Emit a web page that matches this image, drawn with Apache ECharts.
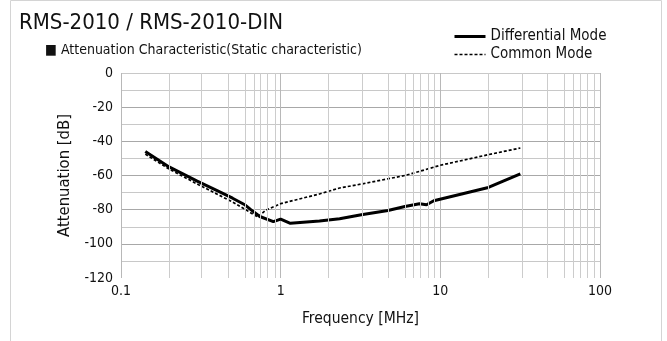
<!DOCTYPE html>
<html>
<head>
<meta charset="utf-8">
<script src="https://cdn.jsdelivr.net/npm/echarts@6/dist/echarts.min.js"></script>
<style>
    html, body { margin: 0; padding: 0; background: #fff; }
    #chart { width: 667px; height: 341px; }
</style>
</head>
<body>
<div id="chart"></div>
<script>
// frequency [MHz] / attenuation [dB]
var dmFreq = [0.142, 0.2, 0.3, 0.4, 0.5, 0.6, 0.65, 0.74, 0.9, 1.0, 1.15, 1.75, 2.34, 3.2, 4.7, 6.0, 7.4, 8.2, 9.1, 13.6, 20, 31.7];
var dmAtt = [-46, -55, -63.3, -68.9, -73.3, -77.3, -80, -84, -87, -85.5, -88, -86.7, -85.3, -83, -80.5, -78.1, -76.5, -77.1, -74.8, -70.8, -67, -59];

var cmFreq = [0.142, 0.2, 0.3, 0.5, 0.72, 0.8, 1.0, 1.75, 2.34, 3.2, 6.0, 7.4, 10, 20, 31.7];
var cmAtt = [-47.5, -56.2, -65, -75.5, -84.3, -80.5, -76.5, -70.8, -67.3, -65, -60, -57.6, -54, -47.8, -43.9];

// minor vertical grid lines inside each decade (as drawn in the source)
var minorSteps = [2, 3.24, 4.7, 6, 6.8, 7.5, 8.35, 9.17];
var decades = [0.1, 1, 10];

var xTickLabels = ['0.1', '1', '10', '100'];
var seriesNames = ['Differential Mode', 'Common Mode'];

var FONT = "'DejaVu Sans Condensed', 'DejaVu Sans', sans-serif";

function pairs(xs, ys) {
    var out = [];
    for (var i = 0; i < xs.length; i++) {
        out.push([xs[i], ys[i]]);
    }
    return out;
}

var minorLines = [];
decades.forEach(function (d) {
    minorSteps.forEach(function (s) {
        minorLines.push({ xAxis: +(d * s).toPrecision(4) });
    });
});

var chart = echarts.init(document.getElementById('chart'));

var option = {
    animation: false,
    title: [
        {
            text: 'RMS-2010 / RMS-2010-DIN',
            left: 14,
            top: 7,
            textStyle: { fontFamily: FONT, fontSize: 22, fontWeight: 'normal', color: '#111' }
        },
        {
            text: '■ Attenuation Characteristic(Static characteristic)',
            left: 40,
            top: 38,
            textStyle: { fontFamily: FONT, fontSize: 14, fontWeight: 'normal', color: '#111' }
        }
    ],
    legend: {
        data: [
            { name: seriesNames[0], lineStyle: { width: 3, type: 'solid', color: '#000' } },
            { name: seriesNames[1], lineStyle: { width: 1.6, type: [3, 2], color: '#000' } }
        ],
        orient: 'vertical',
        left: 448,
        top: 24,
        itemWidth: 31,
        itemHeight: 10,
        itemGap: 3,
        itemStyle: { opacity: 0 },
        textStyle: { fontFamily: FONT, fontSize: 15, color: '#111' }
    },
    graphic: [
        {
            type: 'rect',
            shape: { x: 10.5, y: 0.5, width: 651, height: 360 },
            style: { fill: 'none', stroke: '#d4d4d4', lineWidth: 1 },
            silent: true
        }
    ],
    grid: {
        left: 121,
        right: 67,
        top: 73,
        bottom: 63
    },
    xAxis: {
        type: 'log',
        logBase: 10,
        min: 0.1,
        max: 100,
        name: 'Frequency [MHz]',
        nameLocation: 'middle',
        nameGap: 33,
        nameTextStyle: { fontFamily: FONT, fontSize: 15.5, color: '#111' },
        axisLine: { show: false },
        axisTick: { show: false },
        axisLabel: {
            fontFamily: FONT,
            fontSize: 14,
            color: '#111',
            margin: 6,
            formatter: function (v) {
                var i = Math.round(Math.log10(v)) + 1;
                return xTickLabels[i] !== undefined ? xTickLabels[i] : '';
            }
        },
        splitLine: { show: true, lineStyle: { color: '#b8b8b8', width: 1 } }
    },
    yAxis: {
        type: 'value',
        min: -120,
        max: 0,
        interval: 20,
        name: 'Attenuation [dB]',
        nameLocation: 'middle',
        nameGap: 46,
        nameTextStyle: { fontFamily: FONT, fontSize: 16.5, color: '#111' },
        axisLine: { show: false },
        axisTick: { show: false },
        axisLabel: { fontFamily: FONT, fontSize: 14, color: '#111', margin: 8 },
        minorTick: { show: false, splitNumber: 2 },
        splitLine: {
            show: true,
            lineStyle: {
                color: ['transparent', '#a8a8a8', '#a8a8a8', '#a8a8a8', '#a8a8a8', '#a8a8a8', '#c8c8c8'],
                width: 1
            }
        },
        minorSplitLine: { show: true, lineStyle: { color: '#c8c8c8', width: 1 } }
    },
    series: [
        {
            type: 'line',
            z: 0,
            silent: true,
            data: [],
            markLine: {
                silent: true,
                symbol: 'none',
                label: { show: false },
                lineStyle: { color: '#cccccc', type: 'solid', width: 1 },
                data: minorLines
            }
        },
        {
            name: seriesNames[0],
            type: 'line',
            data: pairs(dmFreq, dmAtt),
            showSymbol: false,
            symbol: 'none',
            lineStyle: { color: '#000', width: 3, type: 'solid' },
            itemStyle: { color: '#000' }
        },
        {
            name: seriesNames[1],
            type: 'line',
            data: pairs(cmFreq, cmAtt),
            showSymbol: false,
            symbol: 'none',
            lineStyle: { color: '#000', width: 1.7, type: [3, 2] },
            itemStyle: { color: '#000' }
        }
    ]
};

chart.setOption(option);
</script>
</body>
</html>
